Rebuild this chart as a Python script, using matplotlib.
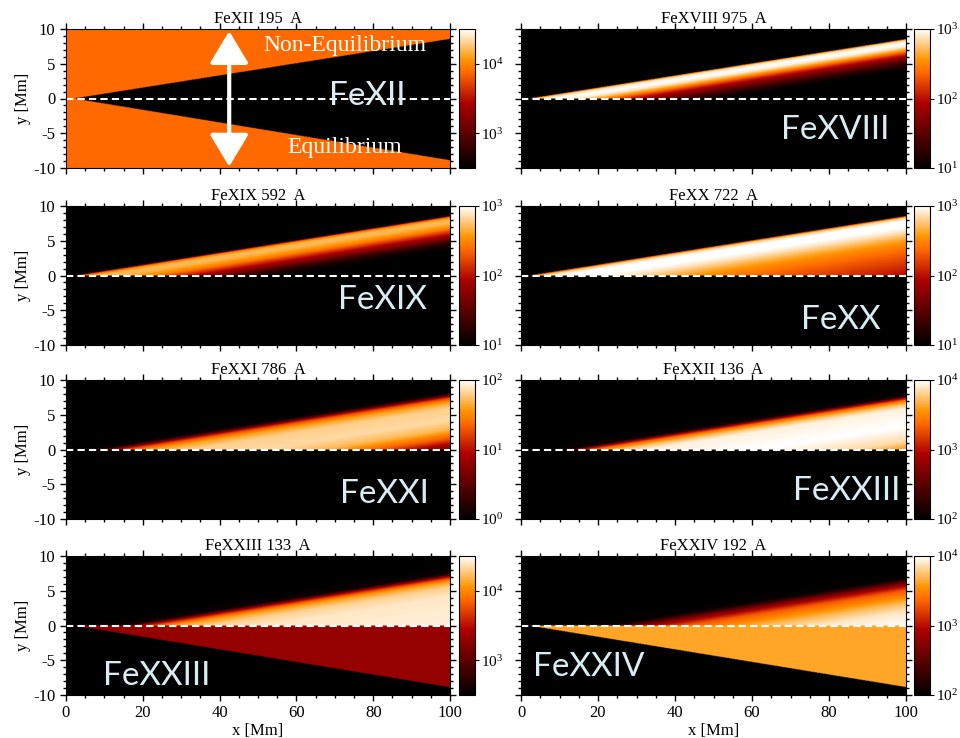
import matplotlib
matplotlib.use("Agg")
import matplotlib.pyplot as plt
import numpy as np
from matplotlib.colors import LogNorm, LinearSegmentedColormap
from matplotlib.ticker import MultipleLocator, LogLocator, LogFormatterMathtext

plt.rcParams['font.family'] = ['Liberation Serif', 'DejaVu Serif']
plt.rcParams['mathtext.fontset'] = 'stix'
plt.rcParams['axes.unicode_minus'] = False

# panel titles and big overlay labels (the original repeats "FeXXIII" on the FeXXII panel)
titles = ['FeXII 195  A', 'FeXVIII 975  A', 'FeXIX 592  A', 'FeXX 722  A',
          'FeXXI 786  A', 'FeXXII 136  A', 'FeXXIII 133  A', 'FeXXIV 192  A']
labels = ['FeXII', 'FeXVIII', 'FeXIX', 'FeXX', 'FeXXI', 'FeXXIII', 'FeXXIII', 'FeXXIV']
label_x = [78.5, 81.5, 82.5, 83.0, 83.0, 84.5, 23.5, 17.5]
label_y = [0.3, -4.6, -3.5, -6.4, -6.4, -6.0, -7.2, -6.0]

# colorbar ranges (log10)
cb_lo = [2.5, 1, 1, 1, 0, 2, 2.5, 2]
cb_hi = [4.5, 3, 3, 3, 2, 4, 4.5, 4]

# wedge geometry [Mm]
apex_x = 2.0
edge_top_at_100 = 8.6
edge_bot_at_100 = -8.9

# log10 emission behind the shock, vs distance t [Mm] travelled since crossing the edge
t_fe12 = [0, 100]
em_fe12 = [1.0, 1.0]
t_fe18 = [0, 3, 8, 13, 18, 25, 32, 40, 50]
em_fe18 = [2.4, 2.9, 3.0, 2.9, 2.6, 2.1, 1.7, 1.3, 1.0]
t_fe19 = [0, 2, 6, 12, 20, 28, 36, 45, 55]
em_fe19 = [1.6, 2.4, 2.7, 2.7, 2.5, 2.1, 1.7, 1.2, 1.0]
t_fe20 = [0, 3, 8, 18, 26, 35, 45, 60, 75, 100]
em_fe20 = [2.2, 2.8, 3.0, 3.0, 2.88, 2.7, 2.52, 2.35, 2.2, 1.95]
t_fe21 = [0, 6, 9, 13, 20, 30, 50, 65, 80, 90, 100]
em_fe21 = [0.0, 0.1, 0.6, 1.2, 1.6, 1.8, 1.84, 1.7, 1.3, 0.9, 0.6]
t_fe22 = [0, 10, 12, 16, 22, 30, 60, 85, 100]
em_fe22 = [2.0, 2.1, 2.7, 3.3, 3.7, 3.94, 4.0, 3.84, 3.5]
t_fe23 = [0, 13, 16, 20, 26, 35, 50, 100]
em_fe23 = [2.5, 2.6, 3.2, 3.7, 4.1, 4.3, 4.4, 4.44]
t_fe24 = [0, 20, 25, 32, 40, 50, 60, 75, 100]
em_fe24 = [2.0, 2.04, 2.4, 2.9, 3.3, 3.5, 3.7, 3.9, 4.0]

# log10 emission in the equilibrium half and outside the wedge
em_equil = [1.0, 0.0, 0.0, 0.0, -1.0, 2.015, 3.31, 3.63]
em_backg = [3.88, 0.0, 0.0, 0.0, -1.0, 1.0, 1.0, 1.0]

t_knots = [t_fe12, t_fe18, t_fe19, t_fe20, t_fe21, t_fe22, t_fe23, t_fe24]
em_knots = [em_fe12, em_fe18, em_fe19, em_fe20, em_fe21, em_fe22, em_fe23, em_fe24]

# IDL-like red temperature table
cmap = LinearSegmentedColormap('red_temp', {
    'red': [(0, 0, 0), (0.69, 1, 1), (1, 1, 1)],
    'green': [(0, 0, 0), (0.47, 0, 0), (1, 1, 1)],
    'blue': [(0, 0, 0), (0.78, 0, 0), (1, 1, 1)]})

xg = np.linspace(0, 100, 600)
yg = np.linspace(-10, 10, 300)
X, Y = np.meshgrid(xg, yg)
k_up = edge_top_at_100 / (100 - apex_x)
k_lo = -edge_bot_at_100 / (100 - apex_x)
upper = (Y >= 0) & (Y <= k_up * (X - apex_x))
lower = (Y < 0) & (Y >= -k_lo * (X - apex_x))
tt = (X - apex_x) - Y / k_up

fig = plt.figure(figsize=(9.6, 7.38), dpi=100)
W, H = 960, 738
col_left = [66, 521]
col_w = [384, 385]
cb_left = [459, 914]
row_top = [29, 206, 380, 556]
row_h = 139

for i in range(8):
    r, c = divmod(i, 2)
    ax = fig.add_axes([col_left[c] / W, 1 - (row_top[r] + row_h) / H, col_w[c] / W, row_h / H])
    cax = fig.add_axes([cb_left[c] / W, 1 - (row_top[r] + row_h) / H, 16 / W, row_h / H])

    logimg = np.full(X.shape, em_backg[i])
    logimg[upper] = np.interp(tt[upper], t_knots[i], em_knots[i])
    logimg[lower] = em_equil[i]
    norm = LogNorm(vmin=10 ** cb_lo[i], vmax=10 ** cb_hi[i])
    im = ax.imshow(10 ** logimg, origin='lower', extent=[0, 100, -10, 10], aspect='auto',
                   cmap=cmap, norm=norm, interpolation='bilinear')
    ax.axhline(0, color='white', lw=1.5, ls=(0, (3.5, 2)))

    ax.set_xlim(0, 100)
    ax.set_ylim(-10, 10)
    ax.xaxis.set_major_locator(MultipleLocator(20))
    ax.xaxis.set_minor_locator(MultipleLocator(5))
    ax.yaxis.set_major_locator(MultipleLocator(5))
    ax.yaxis.set_minor_locator(MultipleLocator(1))
    ax.tick_params(which='both', direction='out', top=True, right=True, labelsize=12, width=1)
    ax.tick_params(which='major', length=4)
    ax.tick_params(which='minor', length=2)
    if r < 3:
        ax.tick_params(labelbottom=False)
    else:
        ax.set_xlabel('x [Mm]', fontsize=12, labelpad=1)
    if c == 1:
        ax.tick_params(labelleft=False)
    else:
        ax.set_ylabel('y [Mm]', fontsize=12, labelpad=2)
    ax.set_title(titles[i], fontsize=12, pad=4)

    ax.text(label_x[i], label_y[i], labels[i], family='Lato', fontsize=24,
            color='#d8ecf2', ha='center', va='center')

    cb = fig.colorbar(im, cax=cax)
    cb.ax.yaxis.set_major_locator(LogLocator(base=10))
    cb.ax.yaxis.set_major_formatter(LogFormatterMathtext())
    cb.ax.minorticks_off()
    cb.ax.tick_params(labelsize=11, length=3, pad=1)

    if i == 0:
        ax.annotate('', xy=(42.5, 9.7), xytext=(42.5, -9.8),
                    arrowprops=dict(arrowstyle='<|-|>,head_length=1.0,head_width=0.6',
                                    mutation_scale=20, lw=3, color='white',
                                    shrinkA=0, shrinkB=0))
        ax.text(72.5, 7.6, 'Non-Equilibrium', color='white', fontsize=17,
                ha='center', va='center')
        ax.text(72.5, -7.0, 'Equilibrium', color='white', fontsize=17,
                ha='center', va='center')

fig.savefig('out.png', dpi=100)
